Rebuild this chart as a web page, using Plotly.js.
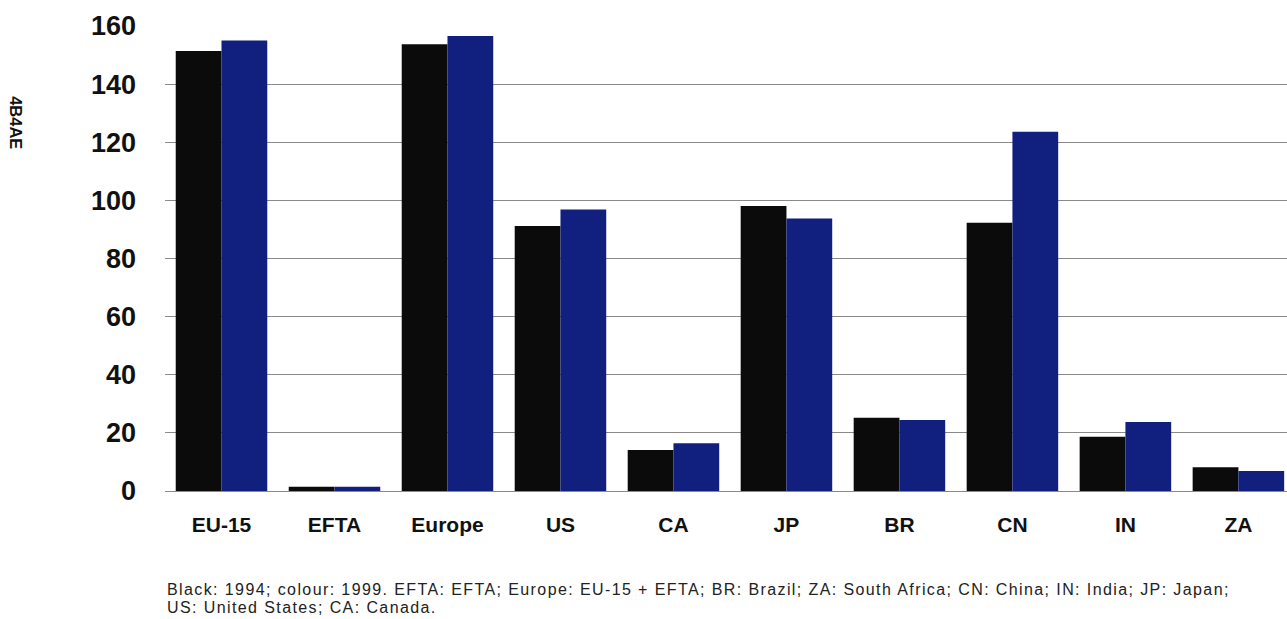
<!DOCTYPE html>
<html>
<head>
<meta charset="utf-8">
<script src="https://cdn.plot.ly/plotly-3.0.1.min.js"></script>
<style>
html,body{margin:0;padding:0;background:#fff;}
#chart{width:1287px;height:619px;}
#chart g.annotation[data-index="1"] text, #chart g.annotation[data-index="2"] text{letter-spacing:1.4px;}
</style>
</head>
<body>
<div id="chart"></div>
<script>
const categories = ["EU-15", "EFTA", "Europe", "US", "CA", "JP", "BR", "CN", "IN", "ZA"];
const values1994 = [151.4, 1.5, 153.7, 91.2, 14.1, 98.1, 25.2, 92.3, 18.7, 8.2];
const values1999 = [155.0, 1.5, 156.6, 96.9, 16.4, 93.8, 24.4, 123.6, 23.7, 6.9];
const yTicks = [0, 20, 40, 60, 80, 100, 120, 140, 160];
const yAxisLabel = "4B4AE";
const captionLines = [
  "Black: 1994; colour: 1999. EFTA: EFTA; Europe: EU-15 + EFTA; BR: Brazil; ZA: South Africa; CN: China; IN: India; JP: Japan;",
  "US: United States; CA: Canada."
];

const traces = [
  {type: "bar", x: categories, y: values1994, name: "1994", marker: {color: "#0b0b0b"}},
  {type: "bar", x: categories, y: values1999, name: "1999", marker: {color: "#111f7e"}}
];

const fontFam = "Liberation Sans, Arial, sans-serif";
const layout = {
  width: 1287, height: 619,
  paper_bgcolor: "#ffffff", plot_bgcolor: "#ffffff",
  margin: {l: 165, r: 0, t: 26, b: 128},
  showlegend: false,
  barmode: "group", bargap: 0.19, bargroupgap: 0,
  font: {family: fontFam, color: "#111"},
  xaxis: {
    type: "category", range: [-0.5, 9.43],
    showgrid: false, zeroline: false, showline: false, ticks: "",
    tickfont: {size: 21, family: fontFam, weight: "bold", color: "#111"},
    ticklabelstandoff: 19
  },
  yaxis: {
    range: [0, 160], tickvals: yTicks, ticktext: yTicks.map(String),
    showgrid: true, gridcolor: "#8a8a8a", gridwidth: 1,
    zeroline: true, zerolinecolor: "#8a8a8a", zerolinewidth: 1,
    showline: false, ticks: "",
    tickfont: {size: 27, family: fontFam, weight: "bold", color: "#111"},
    ticklabelstandoff: 28
  },
  annotations: [
    {text: yAxisLabel, xref: "paper", yref: "paper", x: -0.1328, y: 0.791, xanchor: "center", yanchor: "middle",
     textangle: 90, showarrow: false, font: {size: 16.5, family: fontFam, weight: "bold", color: "#111"}},
    {text: captionLines[0], xref: "paper", yref: "paper", x: 0, y: -0.2129, xanchor: "left", yanchor: "middle", align: "left",
     showarrow: false, font: {size: 16, color: "#222", family: fontFam}},
    {text: captionLines[1], xref: "paper", yref: "paper", x: 0, y: -0.2516, xanchor: "left", yanchor: "middle", align: "left",
     showarrow: false, font: {size: 16, color: "#222", family: fontFam}}
  ]
};

Plotly.newPlot("chart", traces, layout, {displayModeBar: false, staticPlot: true});
</script>
</body>
</html>
